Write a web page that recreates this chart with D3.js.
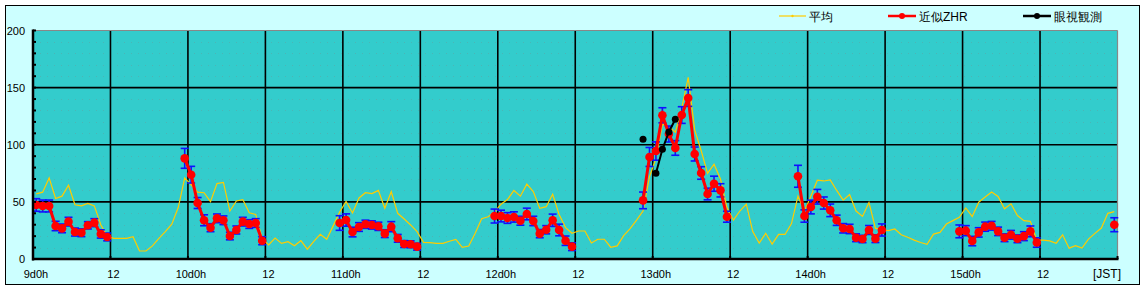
<!DOCTYPE html>
<html><head><meta charset="utf-8">
<script src="https://cdn.jsdelivr.net/npm/d3@7"></script>
<style>html,body{margin:0;padding:0;background:#fff}svg{display:block}text{font-family:"Liberation Sans",Arial,sans-serif}</style>
</head><body>
<script>
// ---- data ----
const startLabel = 9;            // first day
const yTicks = [0, 50, 100, 150, 200];
const xTickHours = d3.range(0, 169, 12);
// 平均 (hourly, at h+0.5)
const avgValues = [
 57,58.5,71,53,55,64.6,47.5,46.5,48.7,46.5,30,20,18.1,18.1,18.1,19.5,7,7,11.5,18.1,24,30.5,45,71,
 65,58.5,58,50.2,66,67,42,50.8,52,40.5,39,18,12.3,18.4,13.7,15.1,11.6,16,8.6,15.5,21.6,17.3,29,41,
 50.3,40.3,53.4,58,57.2,60,44.4,58.9,40,35,29.8,23.9,14.6,14.3,13.7,13.7,15.5,17.2,10.2,11.4,22.5,35.3,37,41.2,
 48,52,60,55,65.5,59,44.4,45.8,56.7,39,27.5,22.5,24.5,24.5,14,17.3,17.3,10.3,11.5,20.5,26.6,34,42,72,
 88,118,116,111,132,159,113,95,75,83,70,45,34,42,48,24,14,22.5,13,21.5,21.5,31,55,42,
 55,69,68.3,69.3,60,51.5,56.5,42,37.3,49.5,27,25.5,24.8,26.3,21.2,19,16.5,14.4,12.9,21.8,23.3,30.6,33.6,36.5,
 44.7,37.1,49.7,54.2,58.6,54.7,43.9,48.3,38,33.6,33,16.5,16.5,15.9,13.8,21.2,9.5,11.6,9.5,17.4,22.4,27.1,40,41.5
];
// 近似ZHR segments
const zhrStart = [0, 23, 47, 71, 94, 118, 143, 167];
const zhrValues = [
 [47.3,46.4,46.4,28.9,26.8,32.7,23.6,23.0,29.5,31.8,21.9,19.3],
 [88.1,73.8,49.0,33.9,27.4,35.6,33.9,20.1,25.4,32.7,30.6,31.5,16.0],
 [31.5,34.1,23.6,28.0,30.4,29.8,28.6,22.2,28.3,18.1,13.1,12.9,10.8],
 [37.6,37.6,35.9,36.8,33.5,39.4,33.3,22.2,25.6,33.9,25.4,16.0,10.8],
 [51.3,89.3,94.5,125.8,109.4,97.2,126.0,140.9,91.9,75.3,56.9,65.9,60.1,37.0],
 [72.4,37.6,45.5,54.5,49.0,42.6,33.9,26.9,26.3,18.6,17.5,25.4,17.8,25.4],
 [24.2,24.8,15.7,23.3,28.3,29.1,24.2,18.6,21.2,17.7,20.0,24.2,14.4],
 [30.0]
];
const zhrErrors = [
 [5.5,5.2,5.2,4.1,3.8,3.8,3.5,3.4,3.2,3.5,3.6,3.4],
 [8.7,7.3,4.8,4.8,3.5,3.8,3.8,3.3,3.5,3.8,3.8,3.8,3.5],
 [6.4,5.4,4.2,3.8,3.6,3.6,3.6,3.4,4.4,3.4,3.0,3.0,3.0],
 [6.1,5.1,4.7,4.5,3.9,5.1,4.1,3.6,3.6,5.4,5.1,4.1,3.4],
 [7.3,8.3,8.0,6.6,7.0,6.4,7.3,7.3,6.1,5.5,5.1,6.6,5.8,4.8],
 [9.6,5.4,6.0,6.4,5.3,5.5,4.5,4.1,4.1,3.4,3.2,3.9,3.4,5.3],
 [5.6,4.4,4.1,4.1,4.0,3.8,3.7,3.4,3.8,3.4,3.9,4.7,4.1],
 [6.1]
];
// 眼視観測
const visStart = 94;
const visValues = [104.8, null, 75.0, 96.0, 111.2, 122.3];
const legendLabels = ["平均", "近似ZHR", "眼視観測"];
const legendColors = ["#FFCC00", "#FF0000", "#000000"];

// ---- drawing ----
const W = 1144, H = 288;
const svg = d3.select("body").append("svg").attr("width", W).attr("height", H);
const x = d3.scaleLinear().domain([0, 168]).range([33, 1117.5]);
const y = d3.scaleLinear().domain([0, 200]).range([259, 30.5]);

svg.append("rect").attr("x", 5.5).attr("y", 5.5).attr("width", 1134).attr("height", 279)
  .attr("fill", "#CCFFFF").attr("stroke", "#000").attr("stroke-width", 1);

svg.append("rect").attr("x", x(0)).attr("y", y(200)).attr("width", x(168) - x(0)).attr("height", y(0) - y(200))
  .attr("fill", "#33CCCC");

// faint dotted minor grid
const minor = svg.append("g").attr("stroke", "#5aa9a9").attr("stroke-width", 1).attr("stroke-dasharray", "1,6").attr("opacity", 0.6);
d3.range(10, 200, 10).filter(v => v % 50 !== 0).forEach(v => {
  minor.append("line").attr("x1", x(0)).attr("x2", x(168)).attr("y1", Math.round(y(v)) + 0.5).attr("y2", Math.round(y(v)) + 0.5);
});

// grid
const grid = svg.append("g").attr("stroke", "#000").attr("stroke-width", 1.6);
xTickHours.slice(1, -1).forEach(h => {
  grid.append("line").attr("x1", x(h)).attr("x2", x(h)).attr("y1", y(200)).attr("y2", y(0));
});
[50, 100, 150].forEach(v => {
  grid.append("line").attr("x1", x(0)).attr("x2", x(168)).attr("y1", y(v)).attr("y2", y(v));
});
// top & right edge
svg.append("line").attr("x1", x(0)).attr("x2", x(168)).attr("y1", y(200)).attr("y2", y(200)).attr("stroke", "#888").attr("stroke-width", 1.2);
svg.append("line").attr("x1", x(168)).attr("x2", x(168)).attr("y1", y(200)).attr("y2", y(0)).attr("stroke", "#888").attr("stroke-width", 1.2);

// 平均 line
const avgPts = avgValues.map((v, i) => [i + 0.5, v]);
svg.append("path").datum(avgPts)
  .attr("d", d3.line().x(d => x(d[0])).y(d => y(d[1])))
  .attr("fill", "none").attr("stroke", "#FFCC00").attr("stroke-width", 1.2);

// ZHR points
const zhrPts = [];
zhrStart.forEach((s, k) => {
  zhrValues[k].forEach((v, j) => zhrPts.push({ seg: k, h: s + j + 0.5, v: v, e: zhrErrors[k][j] }));
});
// error bars
const eb = svg.append("g").attr("stroke", "#1010FF").attr("stroke-width", 1.6);
zhrPts.forEach(p => {
  const cx = x(p.h);
  eb.append("line").attr("x1", cx).attr("x2", cx).attr("y1", y(p.v + p.e)).attr("y2", y(p.v - p.e));
  eb.append("line").attr("x1", cx - 4).attr("x2", cx + 4).attr("y1", y(p.v + p.e)).attr("y2", y(p.v + p.e));
  eb.append("line").attr("x1", cx - 4).attr("x2", cx + 4).attr("y1", y(p.v - p.e)).attr("y2", y(p.v - p.e));
});
// red lines
const line = d3.line().x(d => x(d.h)).y(d => y(d.v));
zhrStart.forEach((s, k) => {
  svg.append("path").datum(zhrPts.filter(p => p.seg === k))
    .attr("d", line).attr("fill", "none").attr("stroke", "#FF0000").attr("stroke-width", 3);
});
svg.append("g").selectAll("circle").data(zhrPts).join("circle")
  .attr("cx", d => x(d.h)).attr("cy", d => y(d.v)).attr("r", 4.3).attr("fill", "#FF0000");

// 眼視観測
const visPts = visValues.map((v, i) => ({ h: visStart + i + 0.5, v: v }));
svg.append("path").datum(visPts)
  .attr("d", d3.line().defined(d => d.v !== null).x(d => x(d.h)).y(d => y(d.v)))
  .attr("fill", "none").attr("stroke", "#000").attr("stroke-width", 2);
svg.append("g").selectAll("circle").data(visPts.filter(d => d.v !== null)).join("circle")
  .attr("cx", d => x(d.h)).attr("cy", d => y(d.v)).attr("r", 3.5).attr("fill", "#000");

// axes
svg.append("line").attr("x1", x(0)).attr("x2", x(0)).attr("y1", y(200) - 1).attr("y2", y(0) + 1.5).attr("stroke", "#000").attr("stroke-width", 2.5);
svg.append("line").attr("x1", x(0) - 1).attr("x2", x(168) + 1).attr("y1", y(0)).attr("y2", y(0)).attr("stroke", "#000").attr("stroke-width", 2.5);
const ticks = svg.append("g").attr("stroke", "#000").attr("stroke-width", 2);
d3.range(0, 201, 10).forEach(v => {
  ticks.append("line").attr("x1", x(0)).attr("x2", x(0) + 3).attr("y1", y(v)).attr("y2", y(v));
});
xTickHours.forEach(h => {
  ticks.append("line").attr("x1", x(h)).attr("x2", x(h)).attr("y1", y(0)).attr("y2", y(0) - 3);
});

const yl = svg.append("g").attr("font-size", 11).attr("fill", "#000").attr("text-anchor", "end");
yTicks.forEach(v => {
  yl.append("text").attr("x", 25).attr("y", y(v) + 4).text(v);
});
const xl = svg.append("g").attr("font-size", 11).attr("fill", "#000").attr("text-anchor", "middle");
xTickHours.slice(0, -1).forEach(h => {
  const lab = h % 24 === 0 ? `${startLabel + h / 24}d0h` : "12";
  xl.append("text").attr("x", x(h) + 3).attr("y", 278).text(lab);
});
svg.append("text").attr("x", 1121).attr("y", 278).attr("font-size", 12).attr("text-anchor", "end").text("[JST]");

// legend
const lg = [[779, 806], [888, 916], [1023, 1051]];
lg.forEach((p, i) => {
  svg.append("line").attr("x1", p[0]).attr("x2", p[1]).attr("y1", 16).attr("y2", 16)
    .attr("stroke", legendColors[i]).attr("stroke-width", i === 0 ? 1.2 : 2.5);
  svg.append("circle").attr("cx", (p[0] + p[1]) / 2).attr("cy", 16).attr("r", i === 0 ? 1.2 : 3).attr("fill", legendColors[i]);
  svg.append("text").attr("x", p[1] + 3).attr("y", 20.5).attr("font-size", 12)
    .attr("font-family", "'Noto Sans CJK JP','Liberation Sans',sans-serif").text(legendLabels[i]);
});
</script>
</body></html>
